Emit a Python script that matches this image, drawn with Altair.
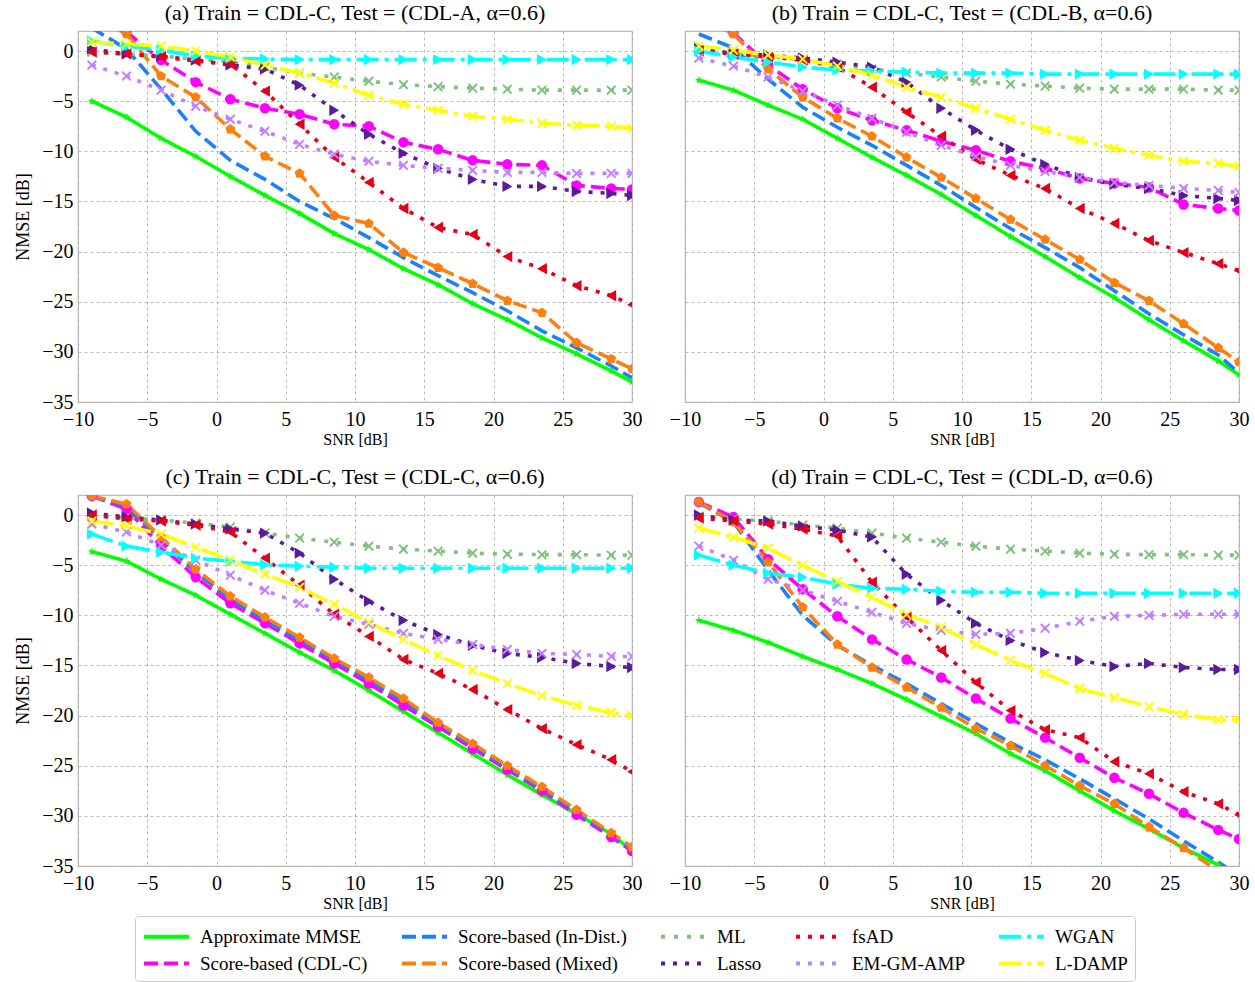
import math
import altair as alt
import pandas as pd

SNR = [-9, -6.5, -4, -1.5, 1, 3.5, 6, 8.5, 11, 13.5, 16, 18.5, 21, 23.5, 26, 28.5, 30]

# drawing order == legend order (legend is filled column by column, 2 rows)
METHODS = ["Approximate MMSE", "Score-based (CDL-C)", "Score-based (In-Dist.)",
           "Score-based (Mixed)", "ML", "Lasso", "fsAD", "EM-GM-AMP", "WGAN", "L-DAMP"]

TITLES = ["(a) Train = CDL-C, Test = (CDL-A, \u03b1=0.6)",
          "(b) Train = CDL-C, Test = (CDL-B, \u03b1=0.6)",
          "(c) Train = CDL-C, Test = (CDL-C, \u03b1=0.6)",
          "(d) Train = CDL-C, Test = (CDL-D, \u03b1=0.6)"]

PANEL_A = {
    "Approximate MMSE": [-5.0, -6.6, -8.7, -10.5, -12.5, -14.4, -16.2, -18.2, -19.8, -21.7, -23.3, -25.2, -26.8, -28.6, -30.2, -31.9, -33.0],
    "Score-based (CDL-C)": [4.0, 1.9, -0.9, -3.1, -4.8, -5.7, -6.3, -7.3, -7.5, -9.1, -9.8, -10.9, -11.3, -11.4, -13.4, -13.7, -13.8],
    "Score-based (In-Dist.)": [2.3, 0.2, -3.8, -8.0, -10.9, -12.8, -15.0, -16.7, -18.6, -20.6, -22.4, -24.1, -25.9, -27.9, -29.6, -31.4, -32.6],
    "Score-based (Mixed)": [3.5, 1.7, -2.5, -4.6, -7.8, -10.5, -12.2, -16.4, -17.2, -20.1, -21.6, -23.2, -24.9, -26.1, -29.1, -30.7, -31.7],
    "ML": [-0.1, -0.3, -0.5, -0.8, -1.1, -1.6, -2.2, -2.6, -3.0, -3.35, -3.55, -3.7, -3.8, -3.9, -3.9, -3.9, -3.9],
    "Lasso": [0.2, -0.3, -0.5, -0.9, -1.4, -1.8, -3.4, -5.9, -8.3, -10.2, -11.7, -12.8, -13.5, -13.5, -14.0, -14.2, -14.4],
    "fsAD": [-0.1, -0.3, -0.6, -1.0, -1.3, -4.0, -7.3, -10.6, -13.1, -15.7, -17.6, -18.3, -20.5, -21.7, -23.4, -24.4, -25.3],
    "EM-GM-AMP": [-1.4, -2.5, -3.9, -5.5, -6.8, -8.0, -9.3, -10.3, -11.0, -11.4, -11.7, -11.9, -12.1, -12.1, -12.2, -12.2, -12.2],
    "WGAN": [1.0, 0.5, 0.1, -0.5, -0.7, -0.8, -0.85, -0.85, -0.85, -0.85, -0.85, -0.85, -0.85, -0.85, -0.85, -0.85, -0.85],
    "L-DAMP": [0.9, 0.7, 0.5, 0.0, -0.6, -1.4, -2.2, -3.2, -4.4, -5.3, -5.9, -6.5, -6.8, -7.2, -7.4, -7.5, -7.7],
}

PANEL_B = {
    "Approximate MMSE": [-2.9, -3.9, -5.4, -6.8, -8.7, -10.6, -12.4, -14.3, -16.4, -18.5, -20.5, -22.6, -24.6, -26.8, -28.9, -30.9, -32.3],
    "Score-based (CDL-C)": [4.0, 1.8, -1.4, -3.8, -5.7, -6.9, -7.9, -9.0, -9.9, -11.0, -11.7, -12.7, -13.2, -13.6, -15.3, -15.7, -15.9],
    "Score-based (In-Dist.)": [1.7, 0.3, -2.8, -5.6, -7.6, -9.4, -11.4, -13.4, -15.6, -17.7, -19.6, -21.6, -23.9, -26.2, -28.3, -30.3, -32.1],
    "Score-based (Mixed)": [3.5, 1.7, -1.8, -4.6, -6.7, -8.5, -10.6, -12.6, -14.7, -16.8, -18.8, -20.8, -23.1, -24.9, -27.2, -29.6, -31.0],
    "ML": [0.1, -0.3, -0.5, -0.9, -1.3, -1.8, -2.2, -2.6, -3.0, -3.3, -3.5, -3.7, -3.8, -3.8, -3.8, -3.9, -3.9],
    "Lasso": [0.4, -0.3, -0.4, -0.7, -1.1, -1.6, -3.1, -5.7, -7.9, -9.8, -11.3, -12.6, -13.3, -13.7, -14.4, -14.7, -14.9],
    "fsAD": [0.0, -0.3, -0.6, -0.9, -1.6, -3.6, -6.1, -8.5, -10.8, -12.4, -13.7, -15.7, -17.2, -18.9, -20.1, -21.2, -21.9],
    "EM-GM-AMP": [-0.7, -1.5, -2.6, -4.0, -5.4, -6.7, -8.1, -9.4, -10.5, -11.4, -12.0, -12.6, -13.1, -13.4, -13.7, -13.9, -14.1],
    "WGAN": [0.0, -0.6, -1.1, -1.6, -1.9, -2.0, -2.1, -2.2, -2.2, -2.2, -2.3, -2.3, -2.3, -2.3, -2.3, -2.3, -2.3],
    "L-DAMP": [0.5, 0.1, -0.4, -0.8, -1.5, -2.4, -3.6, -4.6, -5.7, -6.8, -7.9, -8.9, -9.7, -10.4, -11.0, -11.2, -11.5],
}

PANEL_C = {
    "Approximate MMSE": [-3.65, -4.6, -6.4, -8.0, -9.9, -11.8, -13.7, -15.5, -17.5, -19.6, -21.7, -23.8, -25.9, -27.9, -29.8, -31.8, -33.5],
    "Score-based (CDL-C)": [1.9, 0.6, -3.1, -6.2, -8.8, -10.8, -12.8, -14.8, -16.8, -19.0, -21.1, -23.3, -25.4, -27.5, -29.9, -32.1, -33.5],
    "Score-based (In-Dist.)": [1.9, 0.9, -2.5, -5.7, -8.4, -10.5, -12.5, -14.5, -16.5, -18.6, -20.9, -23.0, -25.2, -27.3, -29.6, -31.9, -33.3],
    "Score-based (Mixed)": [1.9, 1.1, -2.2, -5.4, -8.1, -10.2, -12.2, -14.3, -16.2, -18.3, -20.7, -22.8, -25.0, -27.1, -29.4, -31.7, -33.1],
    "ML": [-0.1, -0.3, -0.5, -0.8, -1.2, -1.8, -2.3, -2.7, -3.1, -3.4, -3.6, -3.8, -3.9, -3.95, -3.95, -4.0, -4.0],
    "Lasso": [0.2, -0.2, -0.5, -0.9, -1.4, -1.8, -3.8, -6.4, -8.6, -10.5, -11.9, -13.0, -13.8, -14.2, -14.8, -15.1, -15.2],
    "fsAD": [0.0, -0.4, -0.6, -1.0, -1.7, -4.3, -7.0, -9.9, -12.1, -14.4, -15.8, -17.4, -19.4, -21.3, -22.9, -24.4, -25.6],
    "EM-GM-AMP": [-0.9, -1.7, -3.0, -4.5, -6.0, -7.5, -8.8, -10.1, -10.9, -11.8, -12.4, -12.9, -13.4, -13.8, -13.9, -14.1, -14.1],
    "WGAN": [-1.9, -3.1, -3.7, -4.3, -4.6, -4.95, -5.1, -5.2, -5.3, -5.3, -5.3, -5.3, -5.3, -5.3, -5.3, -5.3, -5.3],
    "L-DAMP": [-0.6, -1.1, -1.9, -3.2, -4.5, -5.9, -7.2, -8.9, -10.7, -12.4, -14.0, -15.5, -16.8, -18.0, -19.0, -19.7, -20.0],
}

PANEL_D = {
    "Approximate MMSE": [-10.5, -11.5, -12.7, -14.1, -15.4, -16.8, -18.4, -20.1, -21.8, -23.8, -25.5, -27.5, -29.5, -31.3, -33.2, -34.9, -36.0],
    "Score-based (CDL-C)": [1.3, -0.2, -4.4, -7.4, -10.1, -12.4, -14.4, -16.2, -18.3, -20.3, -22.2, -24.2, -26.2, -27.8, -29.7, -31.4, -32.3],
    "Score-based (In-Dist.)": [1.2, -0.7, -5.5, -10.0, -13.0, -15.0, -16.8, -18.8, -20.8, -22.7, -24.4, -26.3, -28.3, -30.3, -32.5, -34.6, -36.0],
    "Score-based (Mixed)": [1.3, -0.7, -4.7, -9.2, -12.9, -15.2, -17.2, -19.2, -21.3, -23.0, -25.0, -27.0, -28.8, -31.1, -33.2, -35.5, -37.0],
    "ML": [-0.1, -0.4, -0.6, -1.0, -1.3, -1.8, -2.3, -2.7, -3.1, -3.4, -3.6, -3.8, -3.9, -3.95, -3.95, -4.0, -4.0],
    "Lasso": [0.0, -0.5, -0.6, -1.1, -1.5, -2.2, -5.9, -8.5, -10.8, -12.5, -13.7, -14.5, -15.1, -14.8, -15.2, -15.4, -15.4],
    "fsAD": [-0.3, -0.6, -0.9, -1.4, -2.1, -6.7, -10.2, -13.5, -16.7, -19.5, -21.4, -22.2, -24.6, -25.8, -27.6, -28.8, -29.9],
    "EM-GM-AMP": [-3.1, -4.5, -6.4, -7.5, -8.6, -9.7, -10.8, -11.5, -11.9, -11.8, -11.3, -10.6, -10.1, -10.0, -9.9, -9.9, -9.9],
    "WGAN": [-4.0, -5.0, -5.8, -6.2, -6.9, -7.3, -7.4, -7.6, -7.7, -7.7, -7.8, -7.8, -7.8, -7.8, -7.8, -7.8, -7.8],
    "L-DAMP": [-1.3, -2.2, -3.3, -5.0, -6.6, -8.2, -9.9, -11.2, -12.9, -14.5, -15.8, -17.3, -18.2, -19.1, -19.9, -20.4, -20.4],
}

# ---- styles (per METHODS) ----
COLORS = ["#00ff00", "#ff00ff", "#1a80ff", "#ff7f0e", "#80c080",
          "#5a1a9a", "#e3001b", "#c080ff", "#00ffff", "#ffff00"]
DASHES = [[1, 0], [14, 6], [14, 6], [14, 6], [4, 9],
          [4, 8], [4, 8], [4, 8], [22, 6, 4, 6], [22, 6, 4, 6]]


def poly_path(n, r_in=None, rot=-math.pi / 2):
    pts = []
    k = 2 * n if r_in else n
    for i in range(k):
        r = 1.0 if (r_in is None or i % 2 == 0) else r_in
        a = rot + i * 2 * math.pi / k
        pts.append(f"{r * math.cos(a):.3f},{r * math.sin(a):.3f}")
    return "M" + "L".join(pts) + "Z"


STAR = poly_path(5, 0.42)
PENT = poly_path(5)
XMARK = ("M-1,-0.72L-0.72,-1L0,-0.28L0.72,-1L1,-0.72L0.28,0L1,0.72L0.72,1"
         "L0,0.28L-0.72,1L-1,0.72L-0.28,0Z")
SHAPES = [STAR, "circle", None, PENT, XMARK,
          "triangle-right", "triangle-left", XMARK, "triangle-right", XMARK]
SIZES = [70, 110, 0, 110, 100, 130, 130, 100, 130, 100]

FONT = "Liberation Serif"


def make_df(panel):
    rows = []
    for m in METHODS:
        for s, v in zip(SNR, panel[m]):
            rows.append({"method": m, "snr": s, "nmse": v})
    return pd.DataFrame(rows)


# wide horizontal stroke used as the legend sample line
LEGEND_LINE = "M-2,0L2,0"

LEGEND_KW = dict(
    title=None, orient="none", legendX=57, legendY=885, columns=5,
    symbolType=LEGEND_LINE, symbolSize=506, symbolStrokeWidth=4,
    symbolOffset=11, labelOffset=20,
    labelFont=FONT, labelFontSize=19, labelLimit=400,
    columnPadding=26, rowPadding=3, padding=7, strokeColor="#cccccc",
    cornerRadius=3, fillColor="white",
)


def panel(df, title, left):
    x = alt.X("snr:Q", scale=alt.Scale(domain=[-10, 30], nice=False),
              axis=alt.Axis(values=list(range(-10, 31, 5)), title="SNR [dB]",
                            labelFlush=False, labelPadding=7, titlePadding=2))
    if left:
        yaxis = alt.Axis(values=list(range(-35, 1, 5)), title="NMSE [dB]")
    else:
        yaxis = alt.Axis(values=list(range(-35, 1, 5)), title=None, labels=False)
    y = alt.Y("nmse:Q", scale=alt.Scale(domain=[-35, 2], nice=False), axis=yaxis)
    base = alt.Chart(df).encode(x=x, y=y)
    layers = [base.mark_line(clip=True, strokeWidth=3.6).encode(
        color=alt.Color("method:N", scale=alt.Scale(domain=METHODS, range=COLORS),
                        legend=alt.Legend(**LEGEND_KW)),
        strokeDash=alt.StrokeDash("method:N", scale=alt.Scale(domain=METHODS, range=DASHES),
                                  legend=alt.Legend(**LEGEND_KW)),
    )]
    for m, c, shp, sz in zip(METHODS, COLORS, SHAPES, SIZES):
        if shp is None or sz == 0:
            continue
        layers.append(
            base.transform_filter(alt.datum.method == m).mark_point(
                clip=True, filled=True, opacity=1, shape=shp, size=sz, color=c,
            )
        )
    return alt.layer(*layers).properties(
        width=554, height=371,
        title=alt.TitleParams(title, anchor="middle", frame="group"),
    )


pa = panel(make_df(PANEL_A), TITLES[0], True)
pb = panel(make_df(PANEL_B), TITLES[1], False)
pc = panel(make_df(PANEL_C), TITLES[2], True)
pd_ = panel(make_df(PANEL_D), TITLES[3], False)

chart = alt.vconcat(
    alt.hconcat(pa, pb, spacing=25),
    alt.hconcat(pc, pd_, spacing=25),
    spacing=17,
).properties(
    padding={"left": 14, "top": 1, "right": 0, "bottom": 0},
).configure_axis(
    labelFont=FONT, labelFontSize=20, labelColor="black",
    titleFont=FONT, titleFontSize=16, titleColor="black", titleFontWeight="normal",
    gridColor="#a8a8a8", gridDash=[3, 3], gridWidth=0.8,
    domain=False, ticks=False, labelPadding=5,
).configure_axisY(titlePadding=9, titleFontSize=18).configure_view(
    stroke="#bbbbbb", strokeWidth=1.2,
).configure_title(
    font=FONT, fontSize=22, fontWeight="normal", color="black", offset=6,
)

chart.save("out.html", embed_options={"renderer": "svg", "actions": False})
